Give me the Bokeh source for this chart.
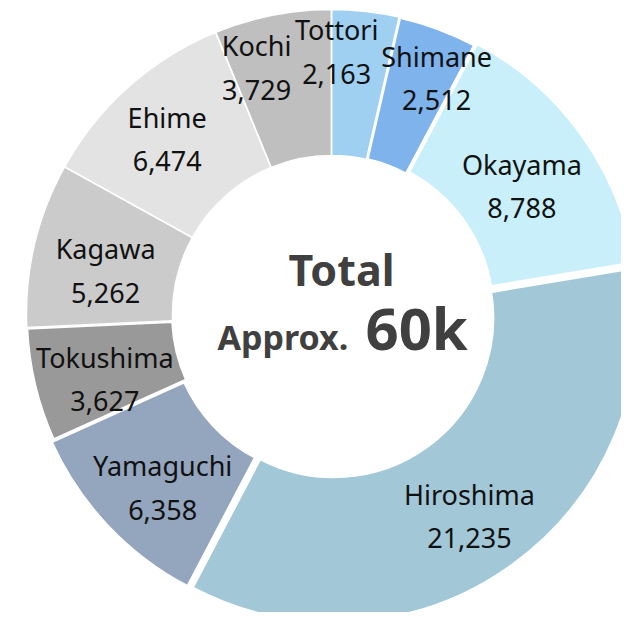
import math
from bokeh.plotting import figure
from bokeh.models import ColumnDataSource, Range1d
from bokeh.core.properties import value
from bokeh.embed import file_html
from bokeh.resources import INLINE

# ---- data ----
prefectures = ["Tottori", "Shimane", "Okayama", "Hiroshima", "Yamaguchi",
               "Tokushima", "Kagawa", "Ehime", "Kochi"]
counts = [2163, 2512, 8788, 21235, 6358, 3627, 5262, 6474, 3729]
colors = ["#9FD0F2", "#7EB3EC", "#C8EFFA", "#A2C8D8", "#94A5BE",
          "#999999", "#CBCBCB", "#E3E3E3", "#BFBFBF"]
center_title = "Total"
center_prefix = "Approx."
center_value = "60k"

# ---- styling / layout ----
explode = {"Okayama": 3, "Hiroshima": 4, "Yamaguchi": 3}
border = {"Shimane": 3, "Okayama": 3, "Hiroshima": 3, "Yamaguchi": 3, "Tokushima": 3}
label_nudge = {  # screen px (dx, dy down)
    "Tottori": (-21, -32), "Shimane": (24, -19), "Okayama": (2, 7),
    "Hiroshima": (2, 14), "Yamaguchi": (0, 14), "Tokushima": (-1, 11),
    "Kagawa": (0, 9), "Ehime": (-10, -2), "Kochi": (-30, -19),
}
R_IN, R_OUT, R_LAB = 159, 305, 232
CX, CY = 331, 314
W, H = 621, 612

total = sum(counts)
xs, ys, starts, ends, lws = [], [], [], [], []
lx, ly = [], []
cum = 0
for name, c in zip(prefectures, counts):
    a0 = cum / total * 2 * math.pi
    a1 = (cum + c) / total * 2 * math.pi
    mid = (a0 + a1) / 2
    cum += c
    d = explode.get(name, 0)
    ox, oy = d * math.sin(mid), d * math.cos(mid)
    xs.append(ox)
    ys.append(oy)
    starts.append(math.pi / 2 - a0)
    ends.append(math.pi / 2 - a1)
    lws.append(border.get(name, 1.5))
    ndx, ndy = label_nudge.get(name, (0, 0))
    lx.append(R_LAB * math.sin(mid) + ndx)
    ly.append(R_LAB * math.cos(mid) - ndy)

src = ColumnDataSource(dict(x=xs, y=ys, start=starts, end=ends, color=colors, lw=lws,
                            lx=lx, ly=ly, name=prefectures,
                            val=[f"{v:,}" for v in counts],
                            ny=[v + 22 for v in ly], vy=[v - 22 for v in ly]))

p = figure(width=W, height=H, output_backend="svg", toolbar_location=None,
           x_range=Range1d(-CX, W - CX), y_range=Range1d(CY - H, CY),
           min_border=0, outline_line_color=None)
p.axis.visible = False
p.grid.visible = False
p.background_fill_color = "white"
p.border_fill_color = "white"

p.annular_wedge(x="x", y="y", inner_radius=R_IN, outer_radius=R_OUT,
                start_angle="start", end_angle="end", direction="clock",
                fill_color="color", line_alpha=0, source=src)
p.annular_wedge(x="x", y="y", inner_radius=R_IN, outer_radius=R_OUT,
                start_angle="start", end_angle="end", direction="clock",
                fill_alpha=0, line_color="white", line_width="lw", source=src)

p.text(x="lx", y="ny", text="name", source=src, text_font=value("Noto Sans"),
       text_font_size="27px", text_color="#111111", text_align="center",
       text_baseline="middle")
p.text(x="lx", y="vy", text="val", source=src, text_font=value("Noto Sans"),
       text_font_size="27px", text_color="#111111", text_align="center",
       text_baseline="middle")

p.text(x=[341 - CX], y=[CY - 269], text=[center_title], text_font=value("Noto Sans"),
       text_font_style="bold", text_font_size="43px", text_color="#404040",
       text_align="center", text_baseline="middle")
p.text(x=[217 - CX], y=[CY - 336], text=[center_prefix], text_font=value("Noto Sans"),
       text_font_style="bold", text_font_size="34px", text_color="#404040",
       text_align="left", text_baseline="middle")
p.text(x=[365 - CX], y=[CY - 327], text=[center_value], text_font=value("Noto Sans"),
       text_font_style="bold", text_font_size="58px", text_color="#404040",
       text_align="left", text_baseline="middle")

open("out.html", "w").write(file_html(p, INLINE))
